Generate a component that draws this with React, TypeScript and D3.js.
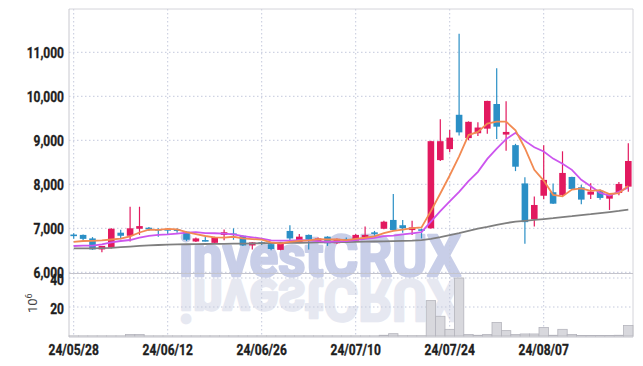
import React from "react";
import * as d3 from "d3";

const dates = [
  "24/05/28","24/05/29","24/05/30","24/05/31","24/06/03","24/06/04","24/06/05","24/06/07","24/06/10","24/06/11",
  "24/06/12","24/06/13","24/06/14","24/06/17","24/06/18","24/06/19","24/06/20","24/06/21","24/06/24","24/06/25",
  "24/06/26","24/06/27","24/06/28","24/07/01","24/07/02","24/07/03","24/07/04","24/07/05","24/07/08","24/07/09",
  "24/07/10","24/07/11","24/07/12","24/07/15","24/07/16","24/07/17","24/07/18","24/07/19","24/07/22","24/07/23",
  "24/07/24","24/07/25","24/07/26","24/07/29","24/07/30","24/07/31","24/08/01","24/08/02","24/08/05","24/08/06",
  "24/08/07","24/08/08","24/08/09","24/08/12","24/08/13","24/08/14","24/08/16","24/08/19","24/08/20","24/08/21",
];

const opens = [
  6850,6850,6770,6520,6560,6900,6830,6990,7010,6980,
  6980,6980,6920,6700,6730,6670,6850,6870,6830,6610,
  6680,6640,6510,6940,6690,6850,6710,6810,6660,6750,
  6720,6800,6900,6990,7190,7070,6960,6970,7000,8550,
  8800,9580,9050,9160,9265,9825,9130,8890,8020,7205,
  7740,7820,7758,8167,7932,7765,7856,7674,7803,7947,
];
const highs = [
  6885,6860,6800,6600,7000,6965,7490,7490,7030,7000,
  7000,7000,6930,6790,6800,6810,6970,7000,6840,6690,
  6700,6650,6690,7070,6870,6860,6790,6820,6770,6790,
  6870,7040,6940,7170,7780,7190,7170,6990,8990,9480,
  9235,11420,9430,9410,9900,10640,9890,8920,8160,7720,
  8890,8020,8750,8170,7992,8023,7880,7780,8050,8932,
];
const lows = [
  6760,6720,6510,6455,6540,6750,6700,6850,6940,6810,
  6850,6900,6710,6690,6700,6660,6730,6740,6600,6520,
  6620,6500,6500,6680,6670,6520,6690,6600,6650,6700,
  6710,6790,6830,6980,6950,6900,6850,6770,6990,8530,
  8727,9110,9000,9100,9150,9030,8760,8300,6650,7040,
  7660,7550,7735,7890,7545,7667,7650,7417,7750,7833,
];
const closes = [
  6830,6760,6520,6600,6990,6830,7000,7050,6980,6950,
  6950,6940,6740,6770,6700,6800,6910,6860,6610,6680,
  6650,6530,6680,6770,6810,6740,6770,6660,6760,6730,
  6850,6850,6880,7150,6960,7000,7020,6950,8980,8980,
  9060,9180,9420,9290,9895,9310,9190,8400,7140,7530,
  8100,7560,8258,7894,7652,7833,7690,7765,8008,8530,
];
// volume, millions of shares
const volumes = [
  0.1,0.1,0.1,0.1,0.1,0.1,1.0,1.0,0.1,0.1,
  0.1,0.1,0.1,0.1,0.1,0.1,0.1,0.1,0.1,0.1,
  0.1,0.1,0.1,0.1,0.1,0.1,0.1,0.1,0.1,0.1,
  0.1,0.1,0.1,0.5,1.6,0.2,0.2,0.2,24.4,13.6,
  4.6,40,1.0,0.5,1.0,9.3,3.7,1.0,1.4,1.4,
  5.8,0.5,4.6,1.0,0.4,0.4,0.4,0.4,0.5,7.2,
];
const ma5 = [
  6690,6711,6715,6725,6745,6765,6815,6905,6970,6962,
  6986,6974,6912,6870,6825,6795,6786,6808,6770,6755,
  6742,6680,6655,6690,6715,6725,6754,6745,6745,6732,
  6760,6785,6818,6890,6940,6970,7002,7020,7390,7790,
  8200,8635,9120,9190,9380,9425,9423,9225,8820,8330,
  8085,7760,7725,7880,7905,7850,7868,7780,7800,7965,
];
const ma10 = [
  6598,6605,6605,6636,6682,6711,6734,6787,6830,6851,
  6863,6881,6903,6915,6891,6888,6879,6860,6823,6796,
  6766,6725,6719,6719,6730,6724,6710,6690,6705,6710,
  6730,6762,6782,6820,6835,6861,6886,6915,7150,7390,
  7610,7830,8070,8284,8578,8809,9026,9171,8987,8842,
  8746,8584,8467,8328,8103,7956,7806,7742,7829,7929,
];
const ma60 = [
  6545,6545,6545,6548,6555,6570,6585,6600,6610,6620,
  6630,6635,6638,6640,6643,6645,6648,6650,6652,6655,
  6660,6663,6666,6669,6672,6675,6678,6681,6684,6687,
  6690,6695,6700,6705,6710,6715,6720,6730,6760,6800,
  6845,6890,6940,6990,7030,7080,7120,7150,7170,7190,
  7210,7230,7255,7275,7300,7320,7345,7370,7395,7425,
];

const priceTicks = [6000, 7000, 8000, 9000, 10000, 11000];
const volumeTicks = [20, 40];
const dateTickIdx = [0, 10, 20, 30, 40, 50];

const W = 643, H = 366;
const LEFT = 69, RIGHT = 633, TOP = 9, PRICE_BOTTOM = 272.3, VOL_BOTTOM = 337;

const UP = "#e2195f";
const DOWN = "#2a8fc6";
const GRID = "#c4c9dc";
const LABEL_FONT = "Roboto, 'DejaVu Sans', sans-serif";

function Label({ x, y, text, anchor = "end" }: { x: number; y: number; text: string; anchor?: string }) {
  return (
    <text
      transform={`translate(${x},${y}) scale(0.8,1)`}
      textAnchor={anchor as any}
      fontFamily={LABEL_FONT}
      fontWeight={700}
      fontSize={15}
      fill="#1e1e1e"
      stroke="#1e1e1e"
      strokeWidth={0.35}
    >
      {text}
    </text>
  );
}

export default function App() {
  const idx = d3.range(dates.length);
  const xb = d3.scaleBand<number>().domain(idx).range([LEFT, RIGHT]).padding(0);
  const bw = xb.bandwidth();
  const cx = (i: number) => (xb(i) as number) + bw / 2;
  const y = d3.scaleLinear().domain([6000, 11000]).range([PRICE_BOTTOM, 52.3]);
  const yv = d3.scaleLinear().domain([0, 40]).range([336, 278]);
  const bodyW = bw * 0.7;

  const line = (arr: number[]) =>
    d3.line<number>().x((_, i) => cx(i)).y((v) => y(v)).curve(d3.curveLinear)(arr) as string;

  return (
    <svg
      width={W}
      height={H}
      style={{ position: "absolute", left: 0, top: 0, background: "#fff" }}
      xmlns="http://www.w3.org/2000/svg"
    >
      <rect x={0} y={0} width={W} height={H} fill="#fff" />

      {/* watermark */}
      <g>
        <text
          x={179}
          y={276}
          fontFamily="Roboto, 'DejaVu Sans', sans-serif"
          fontWeight={700}
          fontSize={58}
          fill="#c8cee8"
          stroke="#c8cee8"
          strokeWidth={2.5}
          strokeLinejoin="round"
          textLength={282}
          lengthAdjust="spacingAndGlyphs"
        >
          investCRUX
        </text>
        <g transform="translate(0,556) scale(1,-1)">
          <text
            x={179}
            y={276}
            fontFamily="Roboto, 'DejaVu Sans', sans-serif"
            fontWeight={700}
            fontSize={58}
            fill="#e6e8f1"
            stroke="#e6e8f1"
            strokeWidth={2.5}
            strokeLinejoin="round"
            textLength={282}
            lengthAdjust="spacingAndGlyphs"
          >
            investCRUX
          </text>
        </g>
      </g>

      {/* grid */}
      {priceTicks.map((t) => (
        <line key={"pg" + t} x1={LEFT} x2={RIGHT} y1={y(t)} y2={y(t)} stroke={GRID} strokeWidth={1} strokeDasharray="1.5,2.5" />
      ))}
      {volumeTicks.map((t) => (
        <line key={"vg" + t} x1={LEFT} x2={RIGHT} y1={yv(t)} y2={yv(t)} stroke={GRID} strokeWidth={1} strokeDasharray="1.5,2.5" />
      ))}
      {dateTickIdx.map((i) => (
        <line key={"xg" + i} x1={cx(i)} x2={cx(i)} y1={TOP} y2={VOL_BOTTOM} stroke={GRID} strokeWidth={1} strokeDasharray="1.5,2.5" />
      ))}

      {/* frame */}
      <line x1={LEFT} x2={RIGHT} y1={TOP} y2={TOP} stroke="#d4d4da" strokeWidth={1} />
      <line x1={LEFT} x2={LEFT} y1={TOP} y2={VOL_BOTTOM} stroke="#c8c8cf" strokeWidth={1} />
      <line x1={RIGHT} x2={RIGHT} y1={TOP} y2={VOL_BOTTOM} stroke="#d4d4da" strokeWidth={1} />
      <line x1={LEFT} x2={RIGHT} y1={273.5} y2={273.5} stroke="#c4c4cc" strokeWidth={1.2} />
      <line x1={LEFT} x2={RIGHT} y1={VOL_BOTTOM} y2={VOL_BOTTOM} stroke="#c4c4cc" strokeWidth={1.2} />

      {/* volume bars */}
      {volumes.map((v, i) => (
        <rect
          key={"v" + i}
          x={xb(i) as number}
          y={yv(v)}
          width={bw}
          height={Math.max(0, yv(0) - yv(v))}
          fill="#d8d8dd"
          stroke="#b4b4bc"
          strokeWidth={0.8}
        />
      ))}

      {/* candles */}
      {idx.map((i) => {
        const o = opens[i], c = closes[i], h = highs[i], l = lows[i];
        const col = c >= o ? UP : DOWN;
        const top = y(Math.max(o, c));
        const bot = y(Math.min(o, c));
        const bh = Math.max(1.6, bot - top);
        return (
          <g key={"c" + i}>
            <line x1={cx(i)} x2={cx(i)} y1={y(h)} y2={y(l)} stroke={col} strokeWidth={1.2} />
            <rect x={cx(i) - bodyW / 2} y={bh === 1.6 ? (top + bot) / 2 - 0.8 : top} width={bodyW} height={bh} fill={col} />
          </g>
        );
      })}

      {/* moving averages */}
      <path d={line(ma60)} fill="none" stroke="#7f7f7f" strokeWidth={1.8} />
      <path d={line(ma10)} fill="none" stroke="#cc55ee" strokeWidth={1.8} />
      <path d={line(ma5)} fill="none" stroke="#f28a52" strokeWidth={1.8} />

      {/* axis labels */}
      {priceTicks.map((t) => (
        <Label key={"pl" + t} x={64} y={y(t) + 5.5} text={d3.format(",")(t)} />
      ))}
      {volumeTicks.map((t) => (
        <Label key={"vl" + t} x={64} y={yv(t) + 6.5} text={String(t)} />
      ))}
      {dateTickIdx.map((i) => (
        <Label key={"dl" + i} x={cx(i)} y={355} text={dates[i]} anchor="middle" />
      ))}
      <text
        transform="translate(37,313) rotate(-90)"
        fontFamily={LABEL_FONT}
        fontSize={13}
        fill="#444"
      >
        10
        <tspan dy={-5} fontSize={9}>6</tspan>
      </text>
    </svg>
  );
}
